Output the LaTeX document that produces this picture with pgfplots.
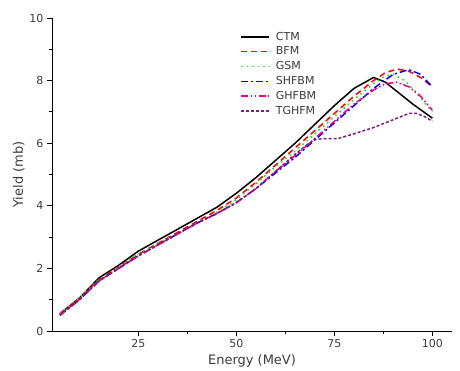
\documentclass[border=0pt]{standalone}
\usepackage{pgfplots}
\pgfplotsset{compat=1.18}
\usepackage{fontspec}
\setmainfont{DejaVu Sans}
\definecolor{mygreen}{RGB}{40,220,40}
\definecolor{mypurple}{RGB}{128,30,128}
\definecolor{txt}{RGB}{60,60,60}
\newcommand{\lt}[1]{\textcolor{txt}{#1}}
\tikzset{
  sCTM/.style={black, line width=1.5pt},
  sBFM/.style={red, line width=1.5pt, dash pattern=on 6pt off 4pt},
  sGSM/.style={mygreen, line width=1.7pt, dash pattern=on 1.5pt off 4pt},
  sSHF/.style={blue, line width=1.5pt, dash pattern=on 7pt off 3pt on 2pt off 3pt},
  sGHF/.style={magenta, line width=1.5pt, dash pattern=on 7pt off 2.5pt on 1.5pt off 2.5pt on 1.5pt off 2.5pt},
  sTGH/.style={mypurple, line width=1.5pt, dash pattern=on 3pt off 2pt},
}
\begin{document}
\begin{tikzpicture}
\begin{axis}[
  scale only axis,
  width=400pt, height=313pt,
  xmin=3, xmax=105, ymin=0, ymax=10,
  axis lines=left,
  axis line style={-, line width=0.8pt},
  xtick={25,50,75,100}, ytick={0,2,4,6,8,10},
  minor x tick num=1, minor y tick num=1,
  tick align=outside,
  major tick length=5pt, minor tick length=3pt,
  tick style={black, line width=0.8pt},
  /pgf/number format/assume math mode=true,
  ticklabel style={font=\fontsize{11}{13}\selectfont, text=txt},
  label style={font=\fontsize{13}{15}\selectfont, text=txt},
  xlabel={Energy (MeV)}, ylabel={Yield (mb)},
  xlabel style={yshift=0pt},
  ylabel style={yshift=-2pt},
  legend style={draw=none, fill=none, at={(0.47,0.962)}, anchor=north west,
    inner sep=0pt, font=\fontsize{11}{13}\selectfont, row sep=1.2pt, column sep=4pt},
  legend cell align=left,
]
\addlegendimage{legend image code/.code={\draw[sCTM] (0pt,0pt) -- (28pt,0pt);}}
\addlegendentry{\lt{CTM}}
\addlegendimage{legend image code/.code={\draw[sBFM] (0pt,0pt) -- (28pt,0pt);}}
\addlegendentry{\lt{BFM}}
\addlegendimage{legend image code/.code={\draw[sGSM] (0pt,0pt) -- (28pt,0pt);}}
\addlegendentry{\lt{GSM}}
\addlegendimage{legend image code/.code={\draw[sSHF] (0pt,0pt) -- (28pt,0pt);}}
\addlegendentry{\lt{SHFBM}}
\addlegendimage{legend image code/.code={\draw[sGHF] (0pt,0pt) -- (28pt,0pt);}}
\addlegendentry{\lt{GHFBM}}
\addlegendimage{legend image code/.code={\draw[sTGH] (0pt,0pt) -- (28pt,0pt);}}
\addlegendentry{\lt{TGHFM}}
\addplot[sCTM, forget plot] coordinates {
(5,0.55)(10,1.05)(15,1.7)(20,2.1)(25,2.55)(30,2.9)(35,3.25)(40,3.6)(45,3.95)(50,4.4)(55,4.9)(60,5.45)(65,6.0)(70,6.6)(75,7.2)(80,7.75)(85,8.1)(88,7.95)(91,7.65)(95,7.25)(100,6.8)};
\addplot[sBFM, forget plot] coordinates {
(5,0.55)(10,1.05)(15,1.65)(20,2.05)(25,2.45)(30,2.8)(35,3.15)(40,3.5)(45,3.85)(50,4.25)(55,4.75)(60,5.3)(65,5.85)(70,6.4)(75,6.95)(80,7.5)(85,8.0)(88,8.25)(91,8.37)(94,8.3)(97,8.1)(100,7.8)};
\addplot[sGSM, forget plot] coordinates {
(5,0.55)(10,1.05)(15,1.65)(20,2.05)(25,2.45)(30,2.8)(35,3.1)(40,3.45)(45,3.8)(50,4.2)(55,4.7)(60,5.25)(65,5.75)(70,6.3)(75,6.85)(80,7.4)(85,7.9)(88,8.15)(90,8.2)(93,8.0)(96,7.6)(100,7.0)};
\addplot[sSHF, forget plot] coordinates {
(5,0.5)(10,1.0)(15,1.6)(20,2.0)(25,2.4)(30,2.75)(35,3.1)(40,3.45)(45,3.75)(50,4.1)(55,4.55)(60,5.05)(65,5.55)(70,6.1)(75,6.65)(80,7.2)(85,7.75)(90,8.2)(94,8.35)(97,8.2)(100,7.8)};
\addplot[sGHF, forget plot] coordinates {
(5,0.5)(10,1.0)(15,1.6)(20,2.0)(25,2.4)(30,2.75)(35,3.1)(40,3.45)(45,3.75)(50,4.1)(55,4.55)(60,5.1)(65,5.6)(70,6.15)(75,6.7)(80,7.25)(85,7.7)(88,7.9)(91,7.95)(94,7.8)(97,7.5)(100,7.05)};
\addplot[sTGH, forget plot] coordinates {
(5,0.5)(10,1.0)(15,1.6)(20,2.0)(25,2.4)(30,2.75)(35,3.1)(40,3.45)(45,3.75)(50,4.1)(55,4.55)(60,5.1)(65,5.65)(68,5.95)(70,6.12)(73,6.15)(76,6.15)(80,6.3)(85,6.5)(90,6.75)(94,6.95)(96,6.95)(98,6.85)(100,6.7)};
\coordinate (O) at (rel axis cs:0,0);
\end{axis}
\pgfresetboundingbox
\path (O) ++(-52pt,-39pt) rectangle ++(460pt,370pt);
\end{tikzpicture}
\end{document}
